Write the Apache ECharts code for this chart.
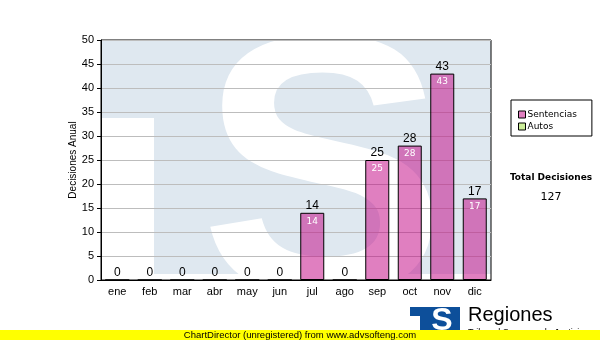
<!DOCTYPE html>
<html>
<head>
<meta charset="utf-8">
<script src="https://cdn.jsdelivr.net/npm/echarts@6/dist/echarts.min.js"></script>
<style>html,body{margin:0;padding:0;background:#fff}#c{width:600px;height:340px}</style>
</head>
<body>
<div id="c"></div>
<script>
var months = ['ene','feb','mar','abr','may','jun','jul','ago','sep','oct','nov','dic'];
var sentencias = [0,0,0,0,0,0,14,0,25,28,43,17];
var yTicks = {min:0, max:50, interval:5};
var legendNames = ['Sentencias','Autos'];
var totalLabel = 'Total Decisiones';
var totalValue = 127;

var chart = echarts.init(document.getElementById('c'), null, {renderer:'canvas'});
var F = 'Liberation Sans, Arial, sans-serif';
chart.setOption({
  animation:false,
  grid:{left:101, top:40, width:390, height:240, show:true, borderColor:'#000', borderWidth:1, backgroundColor:'transparent'},
  xAxis:{type:'category', data:months,
    axisLine:{lineStyle:{color:'#000', width:1}},
    axisTick:{alignWithLabel:true, length:4, lineStyle:{color:'#000'}},
    axisLabel:{color:'#000', fontSize:11, fontFamily:F, margin:6}},
  yAxis:{type:'value', min:yTicks.min, max:yTicks.max, interval:yTicks.interval,
    name:'Decisiones Anual', nameLocation:'middle', nameGap:23, nameMoveOverlap:false,
    nameTextStyle:{color:'#000', fontSize:10, fontFamily:F},
    axisLine:{show:true, lineStyle:{color:'#000'}},
    axisTick:{show:true, length:4, lineStyle:{color:'#000'}},
    axisLabel:{color:'#000', fontSize:11, fontFamily:F, margin:7},
    splitLine:{lineStyle:{color:'#bdbdbd'}}},
  legend:{data:[{name:legendNames[0], icon:'rect'},{name:legendNames[1], icon:'rect'}],
    orient:'vertical', left:511, top:100, itemWidth:7, itemHeight:7, itemGap:3,
    padding:[10,15,5,7], borderColor:'#000', borderWidth:1, backgroundColor:'#fff',
    itemStyle:{borderColor:'#000', borderWidth:1},
    textStyle:{color:'#000', fontSize:9, fontFamily:'DejaVu Sans', padding:[0,0,0,-3]}},
  graphic:[
    {type:'rect', z:-10, shape:{x:101, y:40, width:390, height:234}, style:{fill:'#dfe8f0'}},
    {type:'rect', z:-9, shape:{x:101, y:118, width:53, height:162}, style:{fill:'#fff'}},
    {type:'text', z:-8, style:{text:'S', x:323, y:191, font:'bold 370px "Liberation Sans"', fill:'#fff', align:'center', verticalAlign:'middle'}},
    {type:'text', style:{text:totalLabel, x:551, y:178, font:'bold 9px "DejaVu Sans"', fill:'#000', align:'center', verticalAlign:'middle'}},
    {type:'text', style:{text:String(totalValue), x:551, y:197, font:'11px "DejaVu Sans"', fill:'#000', align:'center', verticalAlign:'middle'}},
    {type:'rect', shape:{x:410, y:307, width:50, height:24}, style:{fill:'#0d4f9a'}},
    {type:'rect', shape:{x:410, y:316, width:10, height:15}, style:{fill:'#fff'}},
    {type:'text', style:{text:'S', x:442, y:321, font:'bold 32px "Liberation Sans"', fill:'#fff', align:'center', verticalAlign:'middle'}},
    {type:'text', style:{text:'Regiones', x:468, y:315, font:'20px "Liberation Sans"', fill:'#000', align:'left', verticalAlign:'middle'}},
    {type:'text', style:{text:'Tribunal Supremo de Justicia', x:468, y:333, font:'9px "Liberation Sans"', fill:'#000', align:'left', verticalAlign:'middle'}},
    {type:'rect', shape:{x:0, y:330, width:600, height:10}, style:{fill:'#ffff00'}},
    {type:'text', style:{text:'ChartDirector (unregistered) from www.advsofteng.com', x:300, y:335, font:'9.5px "Liberation Sans"', fill:'#000', align:'center', verticalAlign:'middle'}}
  ],
  series:[
    {name:legendNames[0], type:'bar', data:sentencias, barWidth:24,
      itemStyle:{color:'rgba(193,0,129,0.5)', borderColor:'#000', borderWidth:1},
      label:{show:true, position:'top', distance:1, color:'#000', fontSize:12, fontFamily:F}},
    {name:'inner', type:'bar', data:sentencias, barWidth:24, barGap:'-100%',
      itemStyle:{color:'rgba(0,0,0,0)', borderWidth:0},
      label:{show:true, position:'insideTop', distance:4, color:'#fff', fontSize:9, fontFamily:'DejaVu Sans',
        formatter:function(p){return p.value ? String(p.value) : '';}}},
    {name:legendNames[1], type:'line', data:[], itemStyle:{color:'#ccee99'}, lineStyle:{color:'#ccee99'}}
  ]
});
</script>
</body>
</html>
